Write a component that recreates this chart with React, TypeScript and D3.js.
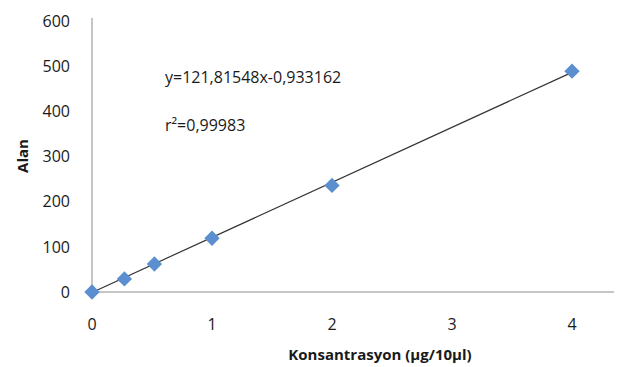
import React from 'react';
import * as d3 from 'd3';

// concentration (µg/10µl) and peak area
const konsantrasyon = [0, 0.27, 0.52, 1, 2, 4];
const alan = [0, 29, 62, 119, 236, 489];
const xTicks = [0, 1, 2, 3, 4];
const yTicks = [0, 100, 200, 300, 400, 500, 600];
const slope = 121.81548;
const intercept = -0.933162;
const equationLabel = 'y=121,81548x-0,933162';
const r2Label = 'r²=0,99983';

const W = 618;
const H = 367;
const margin = { left: 92, right: 4, top: 21, bottom: 75 };
const font = '"Open Sans", "Noto Sans", sans-serif';

export default function App() {
  const x = d3.scaleLinear().domain([0, 4.35]).range([margin.left, margin.left + 120 * 4.35]);
  const y = d3.scaleLinear().domain([0, 600]).range([H - margin.bottom, margin.top]);

  const trend = d3.line<number>()
    .x(d => x(d))
    .y(d => y(slope * d + intercept));

  const diamond = d3.symbol().type(d3.symbolDiamond2).size(150)();

  return (
    <svg width={W} height={H} style={{ position: 'absolute', left: 0, top: 0, background: '#fff' }}>
      <g fontFamily={font} fontSize={16} fill="#1a1a1a">
        {yTicks.map(t => (
          <text key={t} x={margin.left - 22} y={y(t)} dy="0.36em" textAnchor="end">{t}</text>
        ))}
        {xTicks.map(t => (
          <text key={t} x={x(t)} y={y(0) + 38} textAnchor="middle">{t}</text>
        ))}
      </g>
      <line x1={x(0)} x2={x(0)} y1={y(0)} y2={y(600) - 3} stroke="#8c8c8c" />
      <line x1={x(0)} x2={x(4.35)} y1={y(0)} y2={y(0)} stroke="#8c8c8c" />
      <path d={trend([0, 4]) || ''} fill="none" stroke="#333" strokeWidth={1.2} />
      {konsantrasyon.map((c, i) => (
        <path key={i} d={diamond || ''} transform={`translate(${x(c)},${y(alan[i])})`} fill="#5b8fcf" />
      ))}
      <g fontFamily={font} fontSize={16} fill="#1a1a1a">
        <text x={165} y={83}>{equationLabel}</text>
        <text x={165} y={131}>{r2Label}</text>
      </g>
      <g fontFamily={font} fontSize={15} fontWeight="bold" fill="#1a1a1a">
        <text transform={`translate(28,156) rotate(-90)`} textAnchor="middle">Alan</text>
        <text x={380} y={360} textAnchor="middle">Konsantrasyon (µg/10µl)</text>
      </g>
    </svg>
  );
}
